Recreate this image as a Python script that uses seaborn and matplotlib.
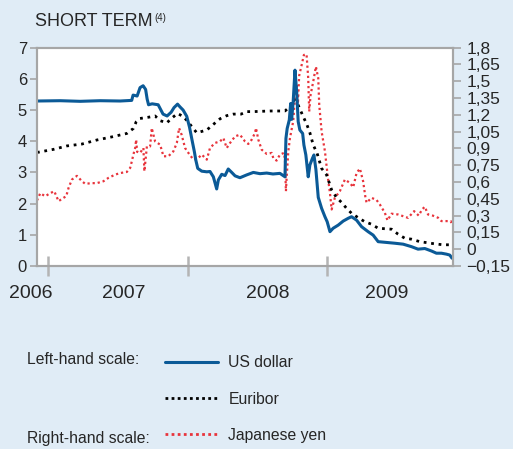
import numpy as np
import pandas as pd
import matplotlib
matplotlib.use("Agg")
import matplotlib.pyplot as plt
import seaborn as sns

# ------------------------------------------------------------------
# data (x in decimal years)
# ------------------------------------------------------------------
usd_t = [2006.919, 2007.086, 2007.229, 2007.373, 2007.516, 2007.599, 2007.609, 2007.638,
         2007.659, 2007.681, 2007.699, 2007.710, 2007.720, 2007.746, 2007.789, 2007.824,
         2007.853, 2007.882, 2007.903, 2007.928, 2007.946, 2007.968, 2007.994, 2008.014,
         2008.032, 2008.049, 2008.059, 2008.073, 2008.102, 2008.138, 2008.161, 2008.185,
         2008.209, 2008.221, 2008.245, 2008.269, 2008.292, 2008.317, 2008.341, 2008.376,
         2008.424, 2008.472, 2008.520, 2008.568, 2008.613, 2008.663, 2008.699, 2008.706,
         2008.715, 2008.730, 2008.740, 2008.747, 2008.758, 2008.771, 2008.783, 2008.794,
         2008.806, 2008.826, 2008.835, 2008.849, 2008.866, 2008.878, 2008.896, 2008.907,
         2008.921, 2008.938, 2008.962, 2008.986, 2009.002, 2009.022, 2009.045, 2009.081,
         2009.117, 2009.153, 2009.177, 2009.213, 2009.249, 2009.296, 2009.332, 2009.368,
         2009.416, 2009.487, 2009.547, 2009.607, 2009.654, 2009.703, 2009.751, 2009.786,
         2009.822, 2009.858, 2009.882, 2009.898]
usd_v = [5.29, 5.30, 5.28, 5.30, 5.29, 5.31, 5.48, 5.45,
         5.72, 5.78, 5.66, 5.35, 5.17, 5.20, 5.17, 4.87,
         4.81, 4.93, 5.08, 5.19, 5.10, 5.00, 4.80, 4.45,
         4.04, 3.66, 3.40, 3.13, 3.04, 3.02, 3.03, 2.86,
         2.47, 2.76, 2.94, 2.90, 3.11, 3.00, 2.89, 2.83,
         2.92, 3.00, 2.96, 2.98, 2.95, 2.97, 2.86, 4.09,
         4.41, 4.68, 5.21, 4.70, 5.27, 6.28, 5.59, 4.63,
         4.36, 4.25, 3.88, 3.56, 2.86, 3.24, 3.45, 3.56,
         3.10, 2.20, 1.85, 1.58, 1.42, 1.10, 1.21, 1.31,
         1.44, 1.53, 1.58, 1.47, 1.26, 1.10, 0.99, 0.78,
         0.76, 0.73, 0.70, 0.62, 0.54, 0.56, 0.48, 0.41,
         0.41, 0.38, 0.35, 0.25]

eur_t = [2006.919, 2007.038, 2007.134, 2007.242, 2007.349, 2007.457, 2007.564, 2007.611,
         2007.631, 2007.659, 2007.719, 2007.767, 2007.803, 2007.851, 2007.889, 2007.928,
         2007.970, 2008.000, 2008.032, 2008.066, 2008.138, 2008.185, 2008.233, 2008.281,
         2008.328, 2008.384, 2008.424, 2008.472, 2008.591, 2008.699, 2008.735, 2008.758,
         2008.785, 2008.830, 2008.855, 2008.878, 2008.902, 2008.930, 2008.962, 2008.998,
         2009.034, 2009.070, 2009.105, 2009.141, 2009.177, 2009.224, 2009.272, 2009.320,
         2009.368, 2009.464, 2009.511, 2009.559, 2009.607, 2009.667, 2009.715, 2009.774,
         2009.834, 2009.889]
eur_v = [3.64, 3.74, 3.85, 3.91, 4.04, 4.14, 4.25, 4.41,
         4.62, 4.73, 4.77, 4.81, 4.66, 4.59, 4.75, 4.89,
         4.79, 4.64, 4.46, 4.27, 4.36, 4.54, 4.72, 4.82,
         4.87, 4.87, 4.95, 4.95, 4.97, 4.97, 5.11, 5.35,
         5.25, 4.79, 4.55, 4.27, 3.88, 3.61, 3.13, 2.92,
         2.44, 2.19, 2.04, 1.85, 1.69, 1.55, 1.42, 1.34,
         1.21, 1.18, 1.02, 0.89, 0.86, 0.78, 0.75, 0.71,
         0.68, 0.68]

jpy_t = [2006.919, 2006.943, 2006.978, 2007.014, 2007.043, 2007.074, 2007.110, 2007.129,
         2007.146, 2007.170, 2007.206, 2007.242, 2007.265, 2007.313, 2007.349, 2007.396,
         2007.432, 2007.480, 2007.516, 2007.564, 2007.588, 2007.600, 2007.611, 2007.624,
         2007.631, 2007.638, 2007.659, 2007.683, 2007.690, 2007.708, 2007.731, 2007.743,
         2007.767, 2007.803, 2007.827, 2007.862, 2007.898, 2007.923, 2007.939, 2007.958,
         2007.982, 2008.006, 2008.042, 2008.077, 2008.102, 2008.138, 2008.161, 2008.197,
         2008.233, 2008.257, 2008.281, 2008.305, 2008.341, 2008.376, 2008.412, 2008.436,
         2008.460, 2008.484, 2008.491, 2008.508, 2008.532, 2008.568, 2008.604, 2008.615,
         2008.639, 2008.663, 2008.692, 2008.699, 2008.706, 2008.711, 2008.723, 2008.735,
         2008.758, 2008.771, 2008.783, 2008.792, 2008.801, 2008.819, 2008.835, 2008.854,
         2008.866, 2008.873, 2008.883, 2008.902, 2008.921, 2008.938, 2008.945, 2008.962,
         2008.986, 2009.002, 2009.009, 2009.022, 2009.034, 2009.057, 2009.093, 2009.129,
         2009.165, 2009.189, 2009.213, 2009.237, 2009.260, 2009.277, 2009.285, 2009.320,
         2009.356, 2009.380, 2009.416, 2009.435, 2009.464, 2009.511, 2009.547, 2009.583,
         2009.626, 2009.659, 2009.683, 2009.703, 2009.726, 2009.760, 2009.798, 2009.822,
         2009.858, 2009.889, 2009.898]
jpy_v = [0.435, 0.500, 0.473, 0.500, 0.518, 0.429, 0.459, 0.473,
         0.548, 0.622, 0.655, 0.607, 0.584, 0.590, 0.590, 0.607,
         0.637, 0.666, 0.680, 0.690, 0.726, 0.785, 0.845, 0.904,
         0.978, 0.870, 0.860, 0.904, 0.696, 0.918, 0.918, 1.082,
         0.963, 0.934, 0.830, 0.830, 0.874, 0.949, 1.082, 1.020,
         0.904, 0.860, 0.800, 0.815, 0.845, 0.800, 0.904, 0.949,
         0.963, 0.993, 0.904, 0.949, 1.008, 1.023, 0.963, 0.940,
         0.978, 1.038, 1.082, 0.978, 0.889, 0.851, 0.860, 0.815,
         0.791, 0.845, 0.860, 0.800, 0.518, 0.637, 0.874, 0.993,
         1.141, 1.350, 1.468, 1.300, 1.550, 1.646, 1.735, 1.741,
         1.527, 1.230, 1.379, 1.497, 1.631, 1.527, 1.290, 1.052,
         0.874, 0.696, 0.622, 0.503, 0.355, 0.459, 0.518, 0.622,
         0.592, 0.553, 0.681, 0.720, 0.607, 0.459, 0.415, 0.459,
         0.440, 0.400, 0.325, 0.257, 0.317, 0.310, 0.295, 0.280,
         0.340, 0.300, 0.355, 0.379, 0.310, 0.300, 0.281, 0.251,
         0.251, 0.251, 0.221]

year_labels = ["2006", "2007", "2008", "2009"]
year_label_pos = [2006.878, 2007.545, 2008.577, 2009.430]
year_ticks = [2007.0, 2008.0, 2009.0]

left_ticks = [0, 1, 2, 3, 4, 5, 6, 7]
right_ticks = [-0.15, 0, 0.15, 0.3, 0.45, 0.6, 0.75, 0.9, 1.05, 1.2, 1.35, 1.5, 1.65, 1.8]
right_labels = ["\u22120,15", "0", "0,15", "0,3", "0,45", "0,6", "0,75", "0,9",
                "1,05", "1,2", "1,35", "1,5", "1,65", "1,8"]

# ------------------------------------------------------------------
# style
# ------------------------------------------------------------------
bg = "#e0ecf6"
grey = "#a6a6a6"
blue = "#0b5a97"
red = "#e8343c"

sns.set_style("white")
plt.rcParams["font.family"] = ["Liberation Sans", "DejaVu Sans"]

fig = plt.figure(figsize=(5.13, 4.49), dpi=100, facecolor=bg)
ax = fig.add_axes([0.0715, 0.4076, 0.8115, 0.4862])
ax2 = ax.twinx()

usd = pd.DataFrame({"t": usd_t, "v": usd_v})
eur = pd.DataFrame({"t": eur_t, "v": eur_v})
jpy = pd.DataFrame({"t": jpy_t, "v": jpy_v})

sns.lineplot(data=jpy, x="t", y="v", ax=ax2, color=red, lw=1.6,
             linestyle=(0, (1, 1.3)), estimator=None, sort=False)
sns.lineplot(data=eur, x="t", y="v", ax=ax, color="black", lw=2.0,
             linestyle=(0, (1, 1.7)), estimator=None, sort=False)
sns.lineplot(data=usd, x="t", y="v", ax=ax, color=blue, lw=2.2,
             estimator=None, sort=False)
# left axis drawn on top of the yen line
ax.set_zorder(ax2.get_zorder() + 1)
ax.patch.set_visible(False)
ax2.patch.set_visible(True)
ax2.patch.set_facecolor("white")

ax.set_xlim(2006.917, 2009.905)
ax.set_ylim(0, 7)
ax2.set_ylim(-0.15, 1.8)

ax.set_yticks(left_ticks)
ax.set_yticklabels([str(v) for v in left_ticks])
ax2.set_yticks(right_ticks)
ax2.set_yticklabels(right_labels)

ax.set_xticks(year_ticks)
ax.set_xticklabels([])
ax.tick_params(axis="x", bottom=True, direction="inout", length=15, width=1.8,
               color="#b4b4b4")
ax.tick_params(axis="y", left=True, direction="out", length=5, width=1.2, color=grey,
               labelsize=12, pad=2)
ax2.tick_params(axis="y", right=True, direction="out", length=5.5, width=1.2, color=grey,
                labelsize=12.5, pad=4)
ax2.tick_params(axis="x", bottom=False, top=False)

for a in (ax, ax2):
    for s in a.spines.values():
        s.set_color(grey)
        s.set_linewidth(1.5)
    a.set_xlabel("")
    a.set_ylabel("")

for lab, pos in zip(year_labels, year_label_pos):
    ax.text(pos, -0.125, lab, transform=ax.get_xaxis_transform(), ha="center",
            va="center", fontsize=14, clip_on=False)

# title
fig.text(35 / 513, 1 - 26.5 / 449, "SHORT TERM", fontsize=13, ha="left", va="baseline")
fig.text(154 / 513, 1 - 21 / 449, "(4)", fontsize=7, ha="left", va="baseline")

# legend
h_usd = plt.Line2D([], [], color=blue, lw=2.2)
h_eur = plt.Line2D([], [], color="black", lw=2.0, linestyle=(0, (1, 1.2)))
h_jpy = plt.Line2D([], [], color=red, lw=2.0, linestyle=(0, (1, 1.2)))
fig.legend([h_usd, h_eur, h_jpy], ["US dollar", "Euribor", "Japanese yen"],
           loc="center left", bbox_to_anchor=(165 / 513, 1 - 399 / 449),
           frameon=False, fontsize=11.3, borderpad=0, borderaxespad=0,
           handlelength=3.4, handletextpad=0.64, labelspacing=1.35)
fig.text(27 / 513, 1 - 360 / 449, "Left-hand scale:", fontsize=11.3, ha="left", va="center")
fig.text(27 / 513, 1 - 438 / 449, "Right-hand scale:", fontsize=11.3, ha="left", va="center")

fig.savefig("out.png", dpi=100, facecolor=bg)
